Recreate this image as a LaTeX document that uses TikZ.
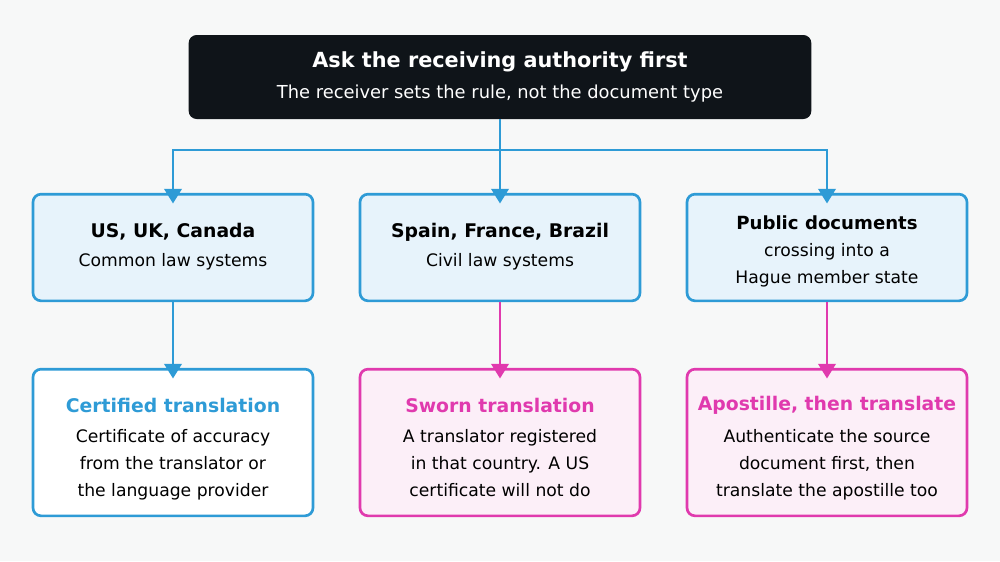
\documentclass[tikz,border=0pt]{standalone}
\usepackage{fontspec}
\setmainfont{DejaVu Sans}
\usetikzlibrary{arrows.meta}
\definecolor{bg}{HTML}{F7F8F8}
\definecolor{dark}{HTML}{0F1419}
\definecolor{blu}{HTML}{2E9BD6}
\definecolor{lblu}{HTML}{E7F3FB}
\definecolor{mag}{HTML}{E03AAE}
\definecolor{lmag}{HTML}{FCEFF8}
\begin{document}
\begin{tikzpicture}[x=0.75pt,y=-0.75pt,
 box/.style={draw,line width=2pt,rounded corners=6pt,minimum width=210pt,inner sep=0pt},
 mid/.style={box,draw=blu,fill=lblu,minimum height=80pt},
 bot/.style={box,minimum height=110pt},
 ttl/.style={font=\bfseries\fontsize{14.1}{17}\selectfont,inner sep=0pt},
 bdy/.style={font=\fontsize{12.9}{20.2}\selectfont,align=center,inner sep=0pt},
 arr/.style={line width=2pt,-{Triangle[length=11pt,width=13pt]}}]
\fill[bg] (0,0) rectangle (1000,561);
\node[fill=dark,rounded corners=6pt,minimum width=467pt,minimum height=63pt] (top) at (500,77) {};
\node[ttl,text=white,font=\bfseries\fontsize{15.6}{18}\selectfont] (t0) at (500,62) {Ask the receiving authority first};
\node[bdy,text=white,font=\fontsize{13.4}{18}\selectfont] (t1) at (500,94) {The receiver sets the rule, not the document type};
\node[mid] (m1) at (173,247.5) {};
\node[mid] (m2) at (500,247.5) {};
\node[mid] (m3) at (827,247.5) {};
\node[ttl] (m1t) at (173,232) {US, UK, Canada};
\node[bdy] (m1b) at (173,262) {Common law systems};
\node[ttl] (m2t) at (500,232) {Spain, France, Brazil};
\node[bdy] (m2b) at (500,262) {Civil law systems};
\node[ttl,font=\bfseries\fontsize{13.6}{17}\selectfont] (m3t) at (827,223) {Public documents};
\node[bdy,anchor=north] (m3b) at (827,243) {crossing into a\\Hague member state};
\node[bot,draw=blu,fill=white] (b1) at (173,442.5) {};
\node[bot,draw=mag,fill=lmag] (b2) at (500,442.5) {};
\node[bot,draw=mag,fill=lmag] (b3) at (827,442.5) {};
\node[ttl,text=blu] (b1t) at (173,405) {Certified translation};
\node[ttl,text=mag] (b2t) at (500,405) {Sworn translation};
\node[ttl,text=mag] (b3t) at (827,405) {Apostille, then translate};
\node[bdy,anchor=north] (b1b) at (173,429) {Certificate of accuracy\\from the translator or\\the language provider};
\node[bdy,anchor=north] (b2b) at (500,429) {A translator registered\\in that country. A US\\certificate will not do};
\node[bdy,anchor=north] (b3b) at (827,429) {Authenticate the source\\document first, then\\translate the apostille too};
\coordinate (j) at (500,150);
\draw[blu,line width=2pt] (top.south) -- (j);
\draw[blu,arr] (j) -| ([yshift=-8]m1.north);
\draw[blu,arr] (j) -- ([yshift=-8]m2.north);
\draw[blu,arr] (j) -| ([yshift=-8]m3.north);
\draw[blu,arr] (m1.south) -- ([yshift=-8]b1.north);
\draw[mag,arr] (m2.south) -- ([yshift=-8]b2.north);
\draw[mag,arr] (m3.south) -- ([yshift=-8]b3.north);
\end{tikzpicture}
\end{document}
